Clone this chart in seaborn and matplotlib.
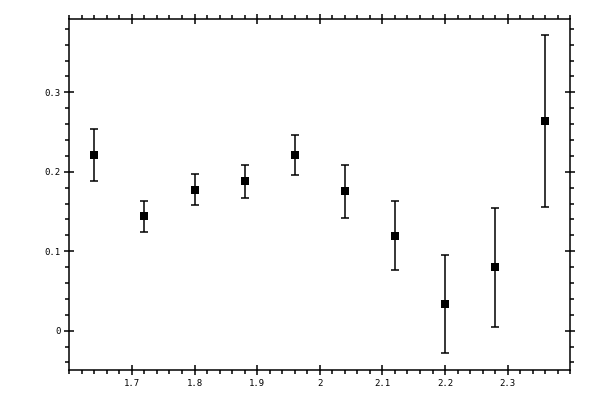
import numpy as np
import seaborn as sns
import matplotlib.pyplot as plt
from matplotlib.ticker import MultipleLocator

# values
x = [1.64, 1.72, 1.80, 1.88, 1.96, 2.04, 2.12, 2.20, 2.28, 2.36]
y = [0.221, 0.144, 0.177, 0.188, 0.221, 0.176, 0.119, 0.034, 0.080, 0.264]
y_lo = [0.188, 0.124, 0.158, 0.167, 0.196, 0.142, 0.076, -0.028, 0.005, 0.156]
y_hi = [0.254, 0.163, 0.197, 0.208, 0.246, 0.208, 0.163, 0.095, 0.155, 0.372]

xticks = [1.7, 1.8, 1.9, 2.0, 2.1, 2.2, 2.3]
xlabels = ['1.7', '1.8', '1.9', '2', '2.1', '2.2', '2.3']
yticks = [0.0, 0.1, 0.2, 0.3]
ylabels = ['0', '0.1', '0.2', '0.3']

sns.set_style('ticks')
plt.rcParams['font.family'] = ['DejaVu Sans Mono']

fig = plt.figure(figsize=(6, 4), dpi=100)
ax = fig.add_axes([0.1155, 0.074, 0.835, 0.878])

yerr = [np.array(y) - np.array(y_lo), np.array(y_hi) - np.array(y)]
ax.errorbar(x, y, yerr=yerr, fmt='none', ecolor='black', elinewidth=1.1,
            capsize=3, capthick=1.1)
sns.scatterplot(x=x, y=y, marker='s', color='black', s=40, edgecolor='black',
                linewidth=0, ax=ax, zorder=3)

ax.set_xlim(1.6, 2.4)
ax.set_ylim(-0.05, 0.392)
ax.set_xticks(xticks)
ax.set_xticklabels(xlabels)
ax.set_yticks(yticks)
ax.set_yticklabels(ylabels)
ax.xaxis.set_minor_locator(MultipleLocator(0.02))
ax.yaxis.set_minor_locator(MultipleLocator(0.02))

for s in ax.spines.values():
    s.set_linewidth(1.1)
    s.set_color('black')

ax.tick_params(which='major', direction='inout', length=7, width=1.1,
               top=True, right=True, labelsize=6.5, pad=3, colors='black')
ax.tick_params(which='minor', direction='out', length=3, width=1.1,
               top=True, right=True, colors='black')

fig.savefig('out.png', dpi=100)
